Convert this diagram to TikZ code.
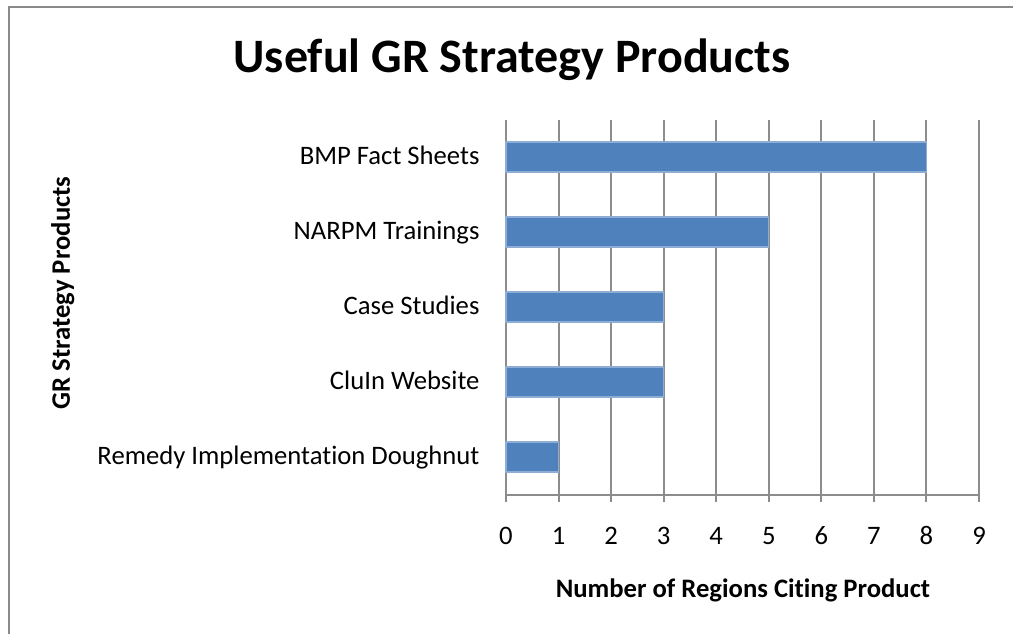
\documentclass[tikz,border=0pt]{standalone}
\usepackage{fontspec}
\setmainfont[Ligatures={NoCommon}]{Carlito}
\usetikzlibrary{positioning}
\definecolor{barblue}{HTML}{4F81BD}
\definecolor{gridgray}{HTML}{8C8C8C}
\definecolor{framegray}{HTML}{8A8A8A}
\tikzset{
    bar/.style={fill=barblue, draw=barblue!65!white, line width=0.4pt},
    grid line/.style={draw=gridgray, line width=0.75pt},
    cat label/.style={anchor=base east, inner sep=0pt, font=\fontsize{10}{12}\selectfont},
    tick label/.style={anchor=base, inner sep=0pt, font=\fontsize{10}{12}\selectfont},
    axis title/.style={inner sep=0pt, font=\bfseries\fontsize{10}{12}\selectfont},
}

\begin{document}
\begin{tikzpicture}[x=0.375pt, y=-0.375pt]
    \useasboundingbox (0,0) rectangle (1013,634);
    % chart frame
    \draw[framegray, line width=0.8pt] (9,640) -- (9,7) -- (1020,7);

    % title
    \node[anchor=base, inner sep=0pt, font=\bfseries\fontsize{18}{22}\selectfont] (title) at (512,73) {Useful GR Strategy Products};

    % grid lines and ticks
    \foreach \i in {0,...,9} {
        \draw[grid line] (506+\i*52.56,120) -- (506+\i*52.56,502);
        \node[tick label] (t\i) at (506+\i*52.56,545) {\i};
    }
    \draw[grid line] (506,495) -- (979,495);

    % bars
    \foreach \v/\y/\name/\txt in {8/157/bmp/BMP Fact Sheets,
                                  5/232/narpm/NARPM Trainings,
                                  3/307/case/Case Studies,
                                  3/382/cluin/CluIn Website,
                                  1/457/remedy/Remedy Implementation Doughnut} {
        \draw[bar] (506,\y-15) rectangle (506+\v*52.56,\y+15);
        \node[cat label] (\name) at (480,\y+8) {\txt};
    }

    % axis titles
    \node[axis title, anchor=base] (xtitle) at (743,598) {Number of Regions Citing Product};
    \node[axis title, anchor=base, rotate=90] (ytitle) at (70,293) {GR Strategy Products};
\end{tikzpicture}
\end{document}
